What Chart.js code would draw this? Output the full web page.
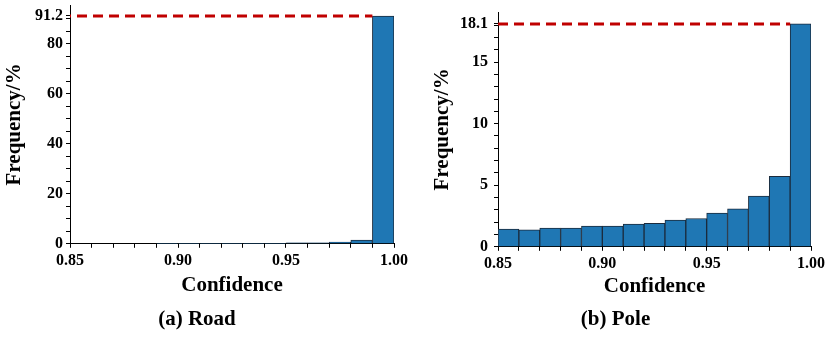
<!DOCTYPE html>
<html>
<head>
<meta charset="utf-8">
<script src="https://cdn.jsdelivr.net/npm/chart.js@4.4.0/dist/chart.umd.min.js"></script>
<style>
  html, body { margin: 0; padding: 0; background: #fff; }
  .box { position: absolute; top: 0; height: 339px; }
</style>
</head>
<body>
<div class="box" style="left:0;width:410px"><canvas id="road"></canvas></div>
<div class="box" style="left:420px;width:410px"><canvas id="pole"></canvas></div>
<script>
// bin centres (width 0.01) on the confidence axis
var binCenters = [0.855, 0.865, 0.875, 0.885, 0.895, 0.905, 0.915, 0.925, 0.935, 0.945, 0.955, 0.965, 0.975, 0.985, 0.995];
var roadFreq = [0, 0, 0, 0, 0.2, 0.2, 0.2, 0.2, 0.2, 0.2, 0.4, 0.4, 0.7, 1.5, 91.2];
var poleFreq = [1.43, 1.38, 1.52, 1.52, 1.68, 1.68, 1.84, 1.9, 2.17, 2.3, 2.74, 3.09, 4.12, 5.72, 18.1];

var xLabels = [0.85, 0.90, 0.95, 1.00];
var roadYLabels = [0, 20, 40, 60, 80, 91.2];
var poleYLabels = [0, 5, 10, 15, 18.1];
var roadPeak = 91.2, polePeak = 18.1;

var serif = 'Liberation Serif';
var tickFont = { family: serif, size: 16, weight: 'bold' };
var titleFont = { family: serif, size: 21, weight: 'bold', lineHeight: 1.2 };

function makeChart(id, freq, peak, yLabels, yMax, yStep, opt) {
  var pts = binCenters.map(function (c, i) { return { x: c, y: freq[i] }; });
  return new Chart(document.getElementById(id), {
    type: 'bar',
    data: {
      datasets: [{
        type: 'line',
        data: [{ x: 0.85, y: peak }, { x: 0.99, y: peak }],
        borderColor: '#c00000',
        borderWidth: 3,
        borderDash: [10, 6],
        borderDashOffset: opt.dashOffset,
        pointRadius: 0,
        order: 0
      }, {
        data: pts,
        backgroundColor: '#1f77b4',
        borderColor: '#1b2b3d',
        borderWidth: 1,
        barPercentage: 1,
        categoryPercentage: 1,
        order: 1
      }]
    },
    options: {
      responsive: true,
      maintainAspectRatio: false,
      animation: false,
      layout: { padding: { top: opt.top, right: opt.right, left: 0, bottom: 0 } },
      plugins: {
        legend: { display: false },
        tooltip: { enabled: false },
        title: {
          display: true,
          position: 'bottom',
          text: opt.caption,
          color: '#000',
          font: titleFont,
          padding: { top: 0, bottom: 7 }
        }
      },
      scales: {
        x: {
          type: 'linear',
          min: 0.85,
          max: 1.00,
          offset: false,
          grid: { offset: false, drawOnChartArea: false, drawTicks: true, tickLength: 4, color: '#000' },
          border: { display: true, color: '#000', width: 1 },
          afterBuildTicks: function (s) {
            var t = [];
            for (var i = 0; i <= 15; i++) t.push({ value: Math.round((0.85 + i * 0.01) * 100) / 100 });
            s.ticks = t;
          },
          afterFit: function (s) { s.height = opt.xHeight; s.paddingLeft = 0; s.paddingRight = 0; },
          ticks: {
            autoSkip: false,
            maxRotation: 0,
            padding: 3,
            color: '#000',
            font: tickFont,
            callback: function (v) {
              return xLabels.some(function (l) { return Math.abs(l - v) < 1e-6; }) ? v.toFixed(2) : '';
            }
          },
          title: { display: true, text: 'Confidence', color: '#000', font: titleFont, padding: { top: 0, bottom: opt.xTitlePad } }
        },
        y: {
          min: 0,
          max: yMax,
          grid: { drawOnChartArea: false, drawTicks: true, tickLength: 4, color: '#000' },
          border: { display: true, color: '#000', width: 1 },
          afterBuildTicks: function (s) {
            var t = [];
            for (var v = 0; v < yLabels[yLabels.length - 1] - 1e-6; v += yStep) t.push({ value: v });
            t.push({ value: yLabels[yLabels.length - 1] });
            s.ticks = t;
          },
          afterFit: function (s) { s.width = opt.yWidth; s.paddingTop = 0; s.paddingBottom = 0; },
          ticks: {
            autoSkip: false,
            padding: opt.yTickPad,
            color: '#000',
            font: tickFont,
            callback: function (v) {
              return yLabels.some(function (l) { return Math.abs(l - v) < 1e-6; }) ? String(v) : '';
            }
          },
          title: { display: true, text: 'Frequency/%', color: '#000', font: titleFont, padding: { top: opt.yTitlePad, bottom: 0 } }
        }
      }
    }
  });
}

makeChart('road', roadFreq, roadPeak, roadYLabels, 95.6, 5, {
  caption: '(a) Road', top: 5, right: 16, yWidth: 70, xHeight: 63,
  xTitlePad: 9, yTitlePad: 2.4, yTickPad: 3, dashOffset: 9
});
makeChart('pole', poleFreq, polePeak, poleYLabels, 19.07, 1, {
  caption: '(b) Pole', top: 12, right: 19, yWidth: 78, xHeight: 60,
  xTitlePad: 8, yTitlePad: 10.4, yTickPad: 6, dashOffset: 0
});
</script>
</body>
</html>
